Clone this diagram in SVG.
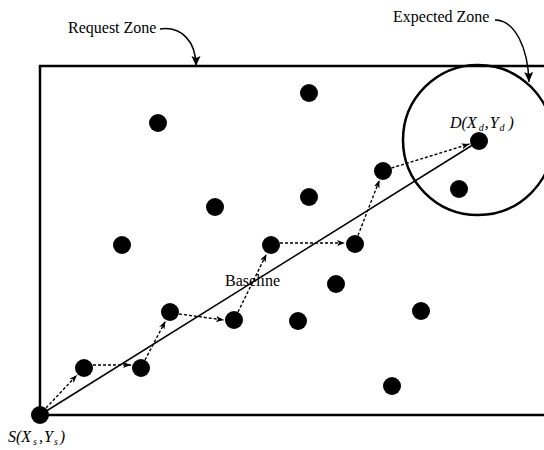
<svg xmlns="http://www.w3.org/2000/svg" width="544" height="450" viewBox="0 0 544 450">
<style>
.lbl{font-family:"Liberation Serif","Times New Roman",serif;font-size:16px;fill:#000}
.it{font-style:italic}
.dot{fill:#000}
.zone{fill:none;stroke:#000;stroke-width:2.5}
.dash{fill:none;stroke:#000;stroke-width:1.4;stroke-dasharray:3 2}
.solid{fill:none;stroke:#000;stroke-width:1.5}
.call{fill:none;stroke:#000;stroke-width:1.5}
</style>
<defs>
<marker id="ah" markerUnits="userSpaceOnUse" markerWidth="10" markerHeight="8" refX="8" refY="3" orient="auto">
<path d="M0,0 L8,3 L0,6 L2,3 z" fill="#000"/>
</marker>
<marker id="ch" markerUnits="userSpaceOnUse" markerWidth="12" markerHeight="12" refX="10" refY="4.5" orient="auto">
<path d="M0,0 L10,4.5 L0,9 L2,4.5 z" fill="#000"/>
</marker>
</defs>
<g id="request-zone">
<rect class="zone" x="40" y="66" width="520" height="349"/>
<text class="lbl" x="68" y="33">Request Zone</text>
</g>
<g id="expected-zone">
<circle class="zone" cx="478" cy="140" r="75"/>
<text class="lbl" x="393" y="22">Expected Zone</text>
</g>
<g id="connectors">
<path class="call" d="M160,29 C182,26 196,42 196,66" marker-end="url(#ch)"/>
<path class="call" d="M495,20 C515,20 528,48 529,82" marker-end="url(#ch)"/>
<line class="solid" x1="40" y1="415" x2="479" y2="141"/>
<line class="dash" x1="46" y1="408" x2="77" y2="375" marker-end="url(#ah)"/>
<line class="dash" x1="93" y1="365" x2="131" y2="365" marker-end="url(#ah)"/>
<line class="dash" x1="145" y1="360" x2="165.5" y2="321" marker-end="url(#ah)"/>
<line class="dash" x1="179" y1="314" x2="224" y2="320" marker-end="url(#ah)"/>
<line class="dash" x1="238" y1="312" x2="266.5" y2="254" marker-end="url(#ah)"/>
<line class="dash" x1="280" y1="243" x2="345" y2="243" marker-end="url(#ah)"/>
<line class="dash" x1="358" y1="235.5" x2="379.5" y2="180" marker-end="url(#ah)"/>
<line class="dash" x1="391.5" y1="168" x2="469.5" y2="144" marker-end="url(#ah)"/>
</g>
<g id="source">
<circle class="dot" cx="40" cy="415" r="9"/>
<text class="lbl it" x="8" y="442">S(X<tspan font-size="10" dy="3" dx="2">s</tspan><tspan dy="-3" dx="2">,</tspan><tspan dx="1">Y</tspan><tspan font-size="10" dy="3" dx="1">s</tspan><tspan dy="-3" dx="2">)</tspan></text>
</g>
<g id="destination">
<circle class="dot" cx="479" cy="141" r="9"/>
<text class="lbl it" x="450" y="128">D(X<tspan font-size="10" dy="3" dx="2">d</tspan><tspan dy="-3" dx="1">,</tspan><tspan dx="1">Y</tspan><tspan font-size="10" dy="3" dx="1">d</tspan><tspan dy="-3" dx="4">)</tspan></text>
</g>
<g id="baseline-label">
<text class="lbl" x="225" y="286">Baseline</text>
</g>
<g id="path-nodes">
<circle class="dot" cx="84" cy="368" r="9"/>
<circle class="dot" cx="141" cy="368" r="9"/>
<circle class="dot" cx="170" cy="312" r="9"/>
<circle class="dot" cx="234" cy="320" r="9"/>
<circle class="dot" cx="271" cy="245" r="9"/>
<circle class="dot" cx="355" cy="244" r="9"/>
<circle class="dot" cx="383" cy="171" r="9"/>
</g>
<g id="other-nodes">
<circle class="dot" cx="309" cy="93" r="9"/>
<circle class="dot" cx="158" cy="123" r="9"/>
<circle class="dot" cx="215" cy="207" r="9"/>
<circle class="dot" cx="309" cy="197" r="9"/>
<circle class="dot" cx="122" cy="245" r="9"/>
<circle class="dot" cx="459" cy="189" r="9"/>
<circle class="dot" cx="336" cy="284" r="9"/>
<circle class="dot" cx="298" cy="321" r="9"/>
<circle class="dot" cx="421" cy="311" r="9"/>
<circle class="dot" cx="392" cy="386" r="9"/>
</g>
</svg>
